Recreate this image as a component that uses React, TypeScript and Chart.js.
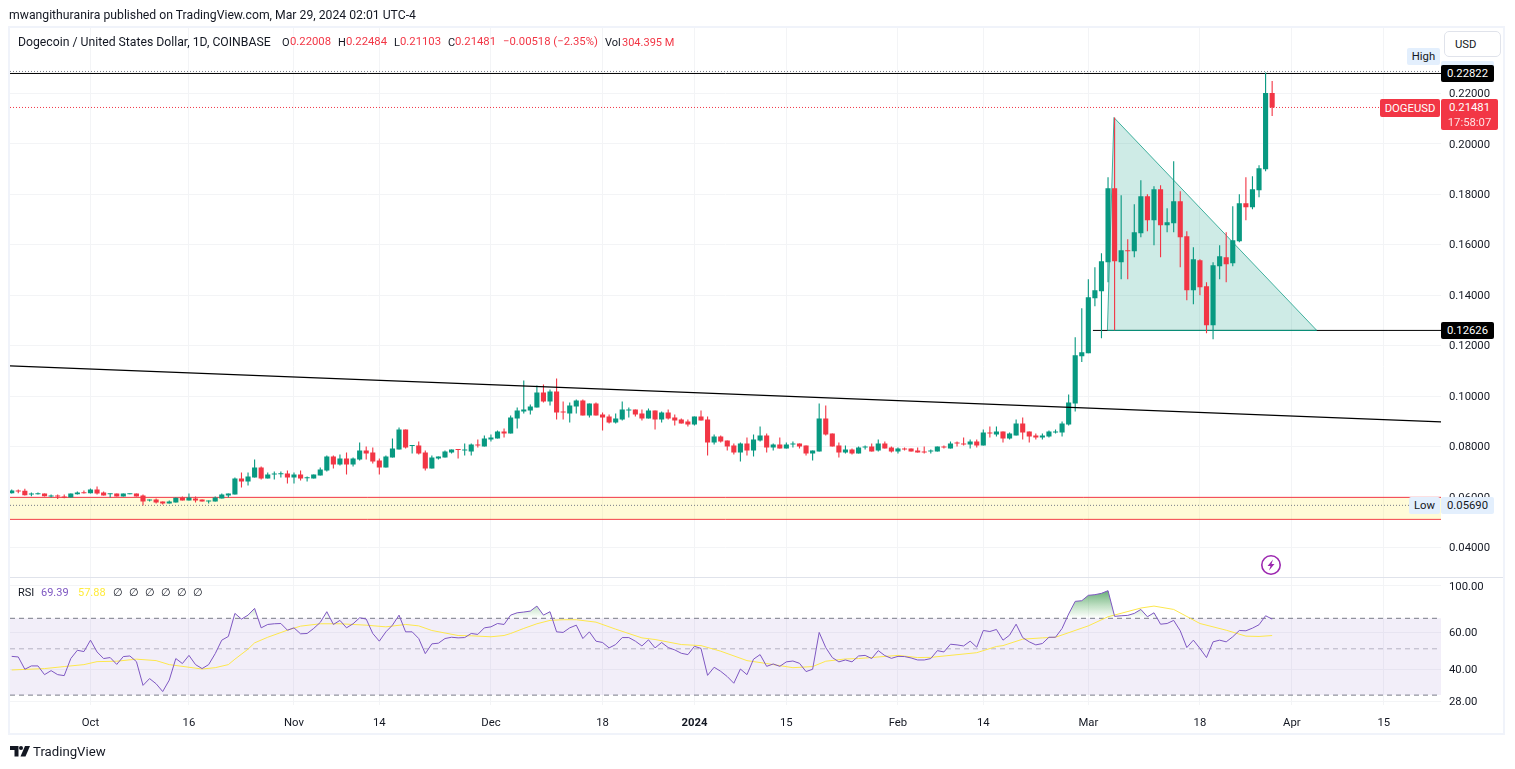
import { useEffect, useRef } from "react";
import { Chart, registerables } from "chart.js";

Chart.register(...registerables);

// days are counted from Oct 1 2023, the first candle is Sep 19
const firstDay = -12;

const opens = [
  0.06153, 0.06259, 0.06246, 0.061, 0.06113, 0.0614, 0.06021, 0.06061, 0.06021, 0.05981,
  0.06113, 0.0618, 0.06153, 0.06299, 0.0618, 0.06113, 0.0614, 0.06021, 0.06113, 0.0614,
  0.06061, 0.05863, 0.05902, 0.05823, 0.05744, 0.05783, 0.05981, 0.05863, 0.05942, 0.05902,
  0.05823, 0.05823, 0.05942, 0.06061, 0.061, 0.06735, 0.06616, 0.06774, 0.07171, 0.06735,
  0.06893, 0.06906, 0.06933, 0.06774, 0.06893, 0.06748, 0.06735, 0.06854, 0.07052, 0.07607,
  0.0729, 0.07528, 0.0729, 0.07488, 0.07845, 0.07766, 0.07449, 0.07171, 0.07567, 0.07885,
  0.08678, 0.08017, 0.08043, 0.07766, 0.07131, 0.07528, 0.07567, 0.07766, 0.07885, 0.07845,
  0.07805, 0.08083, 0.08004, 0.08281, 0.08321, 0.08598, 0.08519, 0.09114, 0.09391, 0.09431,
  0.0955, 0.10145, 0.09788, 0.10184, 0.09391, 0.09312, 0.0959, 0.09827, 0.09233, 0.09708,
  0.09272, 0.09193, 0.08955, 0.09074, 0.09431, 0.09471, 0.09312, 0.09114, 0.09431, 0.09074,
  0.09352, 0.09153, 0.09074, 0.08995, 0.08876, 0.09193, 0.09074, 0.08162, 0.084, 0.08241,
  0.08043, 0.07766, 0.08123, 0.07845, 0.08241, 0.0844, 0.07964, 0.08083, 0.07924, 0.08083,
  0.08123, 0.08043, 0.07726, 0.07805, 0.09114, 0.08519, 0.08043, 0.07766, 0.07885, 0.07726,
  0.07964, 0.08004, 0.07845, 0.08123, 0.07964, 0.07805, 0.07924, 0.07924, 0.07845, 0.07805,
  0.07805, 0.07805, 0.08004, 0.07924, 0.08162, 0.08123, 0.08083, 0.08202, 0.08043, 0.08559,
  0.08479, 0.08598, 0.08321, 0.0844, 0.08915, 0.08598, 0.0844, 0.0836, 0.084, 0.08559,
  0.08559, 0.08876, 0.09708, 0.11573, 0.11692, 0.13873, 0.1415, 0.15301, 0.18235, 0.15301,
  0.15776, 0.15737, 0.1645, 0.17917, 0.16966, 0.18195, 0.16768, 0.16847, 0.17719, 0.16332,
  0.1419, 0.1538, 0.14349, 0.12803, 0.15142, 0.15499, 0.15261, 0.16133, 0.1764, 0.17481, 0.18155, 0.18988, 0.22008,
];
const highs = [
  0.06299, 0.06299, 0.06325, 0.0618, 0.0618, 0.0614, 0.061, 0.061, 0.061, 0.0614,
  0.06219, 0.06259, 0.06338, 0.06418, 0.06219, 0.0614, 0.0614, 0.0614, 0.0614, 0.0614,
  0.061, 0.05902, 0.05942, 0.05823, 0.05863, 0.05981, 0.06021, 0.0614, 0.06021, 0.05902,
  0.05863, 0.06021, 0.0614, 0.0614, 0.06774, 0.06973, 0.06973, 0.07488, 0.07211, 0.06973,
  0.07012, 0.07012, 0.07052, 0.06973, 0.07052, 0.06814, 0.06893, 0.07171, 0.07647, 0.07647,
  0.07686, 0.07766, 0.07567, 0.08162, 0.08004, 0.07964, 0.07528, 0.07647, 0.08321, 0.08757,
  0.08678, 0.08043, 0.08202, 0.07845, 0.07647, 0.07607, 0.07845, 0.07885, 0.07885, 0.08123,
  0.08123, 0.08281, 0.0844, 0.08479, 0.08638, 0.08717, 0.09233, 0.0955, 0.1062, 0.09669,
  0.10422, 0.10462, 0.10264, 0.107, 0.09788, 0.09748, 0.09867, 0.09867, 0.09708, 0.09748,
  0.09352, 0.09272, 0.09312, 0.09788, 0.0955, 0.09471, 0.09471, 0.0951, 0.09431, 0.09391,
  0.09471, 0.09272, 0.09114, 0.09074, 0.09193, 0.09431, 0.09193, 0.08479, 0.0844, 0.08241,
  0.08123, 0.08162, 0.0836, 0.08479, 0.08797, 0.08519, 0.08123, 0.0836, 0.08162, 0.08202,
  0.08123, 0.08043, 0.07845, 0.09708, 0.09629, 0.08519, 0.08162, 0.08043, 0.07924, 0.08004,
  0.08043, 0.08123, 0.08281, 0.08202, 0.08004, 0.07964, 0.07964, 0.07924, 0.07964, 0.08004,
  0.07885, 0.08004, 0.08043, 0.08202, 0.08202, 0.0836, 0.08281, 0.08281, 0.08678, 0.08797,
  0.08797, 0.08598, 0.08559, 0.09074, 0.09153, 0.08598, 0.08519, 0.08519, 0.08638, 0.08678,
  0.08995, 0.10065, 0.12327, 0.13477, 0.14626, 0.15102, 0.15657, 0.18671, 0.21037, 0.17957,
  0.16212, 0.176, 0.18552, 0.17997, 0.18314, 0.18354, 0.17442, 0.19305, 0.18116, 0.1653,
  0.15895, 0.15419, 0.14507, 0.15301, 0.15975, 0.1649, 0.17521, 0.17997, 0.18671, 0.1871, 0.19147, 0.22822, 0.22484,
];
const lows = [
  0.0614, 0.06153, 0.06061, 0.06034, 0.061, 0.06021, 0.05981, 0.05916, 0.05955, 0.05981,
  0.061, 0.0614, 0.0614, 0.061, 0.06061, 0.05981, 0.06021, 0.06021, 0.06113, 0.06021,
  0.05664, 0.05823, 0.05744, 0.05704, 0.05744, 0.05783, 0.05863, 0.05863, 0.05783, 0.05823,
  0.05744, 0.05823, 0.05942, 0.05981, 0.061, 0.06378, 0.06457, 0.06774, 0.06695, 0.06735,
  0.06695, 0.06774, 0.06537, 0.06537, 0.06655, 0.06616, 0.06735, 0.06854, 0.07012, 0.07131,
  0.0725, 0.06893, 0.07211, 0.07449, 0.07488, 0.0733, 0.06893, 0.07171, 0.07567, 0.07885,
  0.07924, 0.07726, 0.07686, 0.07052, 0.07131, 0.07488, 0.07567, 0.07726, 0.07528, 0.07647,
  0.07647, 0.07964, 0.08004, 0.08202, 0.08321, 0.0836, 0.08519, 0.08717, 0.09312, 0.09272,
  0.0955, 0.09748, 0.09629, 0.09074, 0.09074, 0.08955, 0.09312, 0.09233, 0.09153, 0.09233,
  0.08638, 0.08915, 0.08915, 0.09034, 0.09153, 0.09193, 0.09034, 0.09114, 0.08678, 0.08955,
  0.09074, 0.08836, 0.08915, 0.08797, 0.08836, 0.09034, 0.07647, 0.08083, 0.08162, 0.07845,
  0.07686, 0.07409, 0.07647, 0.07607, 0.08202, 0.07766, 0.07845, 0.07924, 0.07924, 0.07964,
  0.07924, 0.07647, 0.07449, 0.07805, 0.0844, 0.08004, 0.07567, 0.07726, 0.07686, 0.07726,
  0.07885, 0.07805, 0.07805, 0.07924, 0.07766, 0.07726, 0.07845, 0.07805, 0.07766, 0.07726,
  0.07726, 0.07805, 0.07924, 0.07924, 0.08004, 0.08043, 0.07924, 0.07964, 0.08043, 0.0836,
  0.084, 0.08162, 0.08281, 0.0844, 0.08281, 0.08162, 0.08281, 0.08281, 0.0836, 0.08519,
  0.084, 0.08836, 0.09391, 0.11349, 0.11692, 0.13556, 0.12287, 0.14507, 0.12604, 0.14626,
  0.14626, 0.15499, 0.16292, 0.1653, 0.15975, 0.15499, 0.1649, 0.1649, 0.15102, 0.13794,
  0.13635, 0.13992, 0.12485, 0.12247, 0.14626, 0.14507, 0.15142, 0.16094, 0.16966, 0.17402, 0.17878, 0.18909, 0.21103,
];
const closes = [
  0.06259, 0.06219, 0.06074, 0.0614, 0.0614, 0.06034, 0.06061, 0.06021, 0.05968, 0.0614,
  0.0618, 0.06153, 0.06299, 0.0614, 0.06061, 0.0614, 0.06021, 0.0614, 0.0614, 0.06021,
  0.05823, 0.05902, 0.05783, 0.05744, 0.05823, 0.05968, 0.05863, 0.05981, 0.05863, 0.05823,
  0.05863, 0.05981, 0.061, 0.0614, 0.06735, 0.06616, 0.06814, 0.07171, 0.06735, 0.06893,
  0.06933, 0.06933, 0.06774, 0.06893, 0.06735, 0.06774, 0.06893, 0.07092, 0.07607, 0.0729,
  0.07528, 0.0729, 0.07528, 0.07845, 0.07726, 0.07409, 0.07171, 0.07607, 0.07924, 0.08678,
  0.07964, 0.08043, 0.07726, 0.07131, 0.07567, 0.07607, 0.07805, 0.07885, 0.07858, 0.07885,
  0.08083, 0.08043, 0.08321, 0.0836, 0.08598, 0.08519, 0.09153, 0.09431, 0.09471, 0.0959,
  0.10145, 0.09788, 0.10184, 0.09352, 0.09352, 0.09629, 0.09827, 0.09233, 0.09708, 0.09233,
  0.09153, 0.08955, 0.09114, 0.09471, 0.09471, 0.09272, 0.09114, 0.09431, 0.09074, 0.09352,
  0.09114, 0.09034, 0.08915, 0.08876, 0.09193, 0.09034, 0.08162, 0.084, 0.08202, 0.08004,
  0.07766, 0.08123, 0.07845, 0.08281, 0.0844, 0.07964, 0.08083, 0.07924, 0.08083, 0.08123,
  0.08004, 0.07726, 0.07845, 0.09114, 0.08479, 0.08004, 0.07766, 0.07885, 0.07726, 0.07964,
  0.08004, 0.07805, 0.08123, 0.07924, 0.07805, 0.07924, 0.07885, 0.07805, 0.07766, 0.07766,
  0.07845, 0.08004, 0.07964, 0.08123, 0.08123, 0.08083, 0.08202, 0.08043, 0.08559, 0.08519,
  0.08598, 0.08321, 0.08519, 0.08915, 0.08559, 0.084, 0.0836, 0.0844, 0.08598, 0.08598,
  0.08915, 0.09748, 0.11613, 0.11732, 0.13913, 0.1419, 0.1534, 0.18235, 0.1534, 0.15776,
  0.15737, 0.1649, 0.17917, 0.16966, 0.18195, 0.16768, 0.16887, 0.17719, 0.16292, 0.1419,
  0.15419, 0.14309, 0.12803, 0.15181, 0.15538, 0.15221, 0.16173, 0.1764, 0.17481, 0.18195, 0.19028, 0.22008, 0.2144,
];

const rsi = [
  46.0, 45.7, 39.9, 41.4, 41.4, 37.6, 39.3, 37.6, 37.2, 44.9,
  49.2, 48.5, 55.0, 48.3, 44.9, 45.4, 42.1, 45.9, 46.2, 43.4,
  33.4, 36.0, 34.0, 31.2, 35.4, 44.9, 42.5, 46.5, 42.0, 40.2,
  42.0, 47.4, 55.0, 57.3, 73.9, 69.4, 72.5, 78.1, 63.0, 65.4,
  65.9, 66.1, 61.4, 63.0, 59.0, 59.2, 62.6, 66.9, 75.3, 65.4,
  68.4, 63.0, 65.9, 70.4, 69.4, 59.2, 54.4, 60.3, 64.9, 72.5,
  60.3, 60.3, 56.0, 47.4, 52.8, 53.2, 56.0, 56.8, 56.4, 56.6,
  59.2, 58.6, 63.0, 63.7, 66.1, 65.4, 72.5, 74.4, 75.0, 75.8,
  80.1, 72.5, 75.3, 60.3, 59.9, 63.0, 64.9, 56.0, 60.3, 54.4,
  53.6, 50.5, 52.4, 56.6, 56.6, 54.4, 51.6, 55.2, 50.5, 53.6,
  50.7, 49.4, 47.6, 46.9, 51.4, 50.2, 37.3, 40.8, 39.0, 36.8,
  34.2, 40.0, 37.6, 44.6, 46.9, 41.2, 42.3, 41.2, 43.3, 43.7,
  42.6, 38.9, 39.9, 59.9, 50.7, 45.4, 43.3, 44.2, 43.3, 46.2,
  46.5, 44.9, 49.0, 46.4, 45.0, 46.0, 45.9, 45.2, 44.2, 44.2,
  44.9, 49.0, 48.3, 52.6, 52.2, 51.6, 54.4, 50.9, 61.2, 60.5,
  61.9, 55.0, 58.1, 65.6, 56.6, 54.0, 52.2, 53.0, 56.8, 56.8,
  62.6, 73.4, 84.4, 85.0, 90.2, 90.85, 92.2, 94.96, 71.5, 72.0,
  72.3, 73.9, 77.2, 71.2, 74.4, 65.6, 66.1, 68.4, 61.0, 50.7,
  55.0, 50.2, 45.4, 54.0, 55.0, 54.0, 57.1, 61.2, 61.0, 62.8, 65.2, 72.0, 69.39,
];

// the RSI average is read at these days only
const rsiMaDays = [
  -12, -7, -4, -1, 1, 4, 7, 10, 12, 15, 17, 19, 21, 22, 24, 25, 27, 30, 32, 35, 38, 42, 45, 48, 50, 52, 56, 58, 61,
  63, 64, 66, 68, 70, 72, 74, 77, 80, 84, 86, 90, 93, 96, 100, 103, 107, 110, 112, 115, 117, 123, 126, 128, 135, 138,
  139, 142, 145, 147, 152, 155, 160, 162, 165, 169, 173, 176, 178, 180,
];
const rsiMa = [
  39.6, 40.2, 41.1, 42.0, 43.4, 43.6, 44.6, 43.9, 42.0, 40.8, 40.0, 40.6, 42.0, 44.6, 49.8, 53.4, 56.8, 61.4, 64.2, 65.9, 65.9, 64.9, 63.7, 65.4, 64.4, 61.2, 57.9, 57.7, 57.1,
  57.9, 59.2, 62.6, 65.9, 68.4, 68.9, 68.9, 67.1, 62.1, 56.4, 55.4, 52.4, 51.8, 48.7, 43.9, 42.5, 40.6, 41.1, 43.6, 44.7, 44.9, 46.5, 45.4, 45.5, 47.9, 51.3,
  51.8, 55.6, 56.4, 56.8, 64.4, 71.2, 78.4, 80.1, 77.2, 66.1, 61.4, 57.5, 57.3, 57.88,
];

const tickDays = [0, 15, 31, 44, 61, 78, 92, 106, 123, 136, 152, 169, 183, 197];
const tickLabels = ["Oct", "16", "Nov", "14", "Dec", "18", "2024", "15", "Feb", "14", "Mar", "18", "Apr", "15"];
const priceTicks = [0.04, 0.06, 0.08, 0.1, 0.12, 0.14, 0.16, 0.18, 0.2, 0.22];
const rsiTicks = [28, 40, 60, 100];

// drawings on the price pane
const xMin = -12.26;
const xMax = 205.72;
const trendLine = [0.11196, 0.08977];
const triangleDays = [154.9, 155.9, 186.8];
const trianglePrices = [0.12602, 0.21036, 0.12602];
const supportPrice = 0.12602;
const supportStart = 152.7;
const highLine = 0.22784;
const highDotted = 0.22864;
const lastLine = 0.21437;
const lowDotted = 0.05669;
const zoneTop = 0.05986;
const zoneBottom = 0.05114;

const GREEN = "#089981";
const RED = "#f23645";
const TEXT = "#131722";
const GRID = "#f3f4f6";
const FONT = "Roboto, sans-serif";

const flat = (price: number, from = xMin) => [
  { x: from, y: price },
  { x: xMax, y: price },
];

const line = (data: any[], yAxisID: string, borderColor: string, extra: any = {}) => ({
  type: "line",
  data,
  yAxisID,
  xAxisID: "x",
  borderColor,
  borderWidth: 1,
  pointRadius: 0,
  tension: 0,
  fill: false,
  ...extra,
});

// canvas middle baseline sits a little high for this font, nudge the axis labels down
const nudgeLabels = {
  id: "nudgeLabels",
  afterLayout(chart: any) {
    ["price", "rsi"].forEach((id) => {
      chart.scales[id].getLabelItems(chart.chartArea).forEach((item: any) => {
        item.options.translation[1] += 1;
      });
    });
  },
};

function Txt({ x, y, color = TEXT, size = 11, children, style }: any) {
  return (
    <span
      style={{
        position: "absolute",
        left: x,
        top: y,
        transform: "translateY(-50%)",
        color,
        fontSize: size,
        fontFamily: FONT,
        whiteSpace: "nowrap",
        lineHeight: 1,
        ...style,
      }}
    >
      {children}
    </span>
  );
}

function Tag({ left, top, width, height, bg, color = "#fff", children, style }: any) {
  return (
    <div
      style={{
        position: "absolute",
        left,
        top,
        width,
        height,
        background: bg,
        color,
        fontFamily: FONT,
        fontSize: 11.3,
        borderRadius: 2,
        display: "flex",
        alignItems: "center",
        justifyContent: "center",
        whiteSpace: "nowrap",
        ...style,
      }}
    >
      {children}
    </div>
  );
}

export default function App() {
  const canvasRef = useRef<HTMLCanvasElement>(null);

  useEffect(() => {
    const ctx = canvasRef.current!.getContext("2d")!;
    const days = opens.map((_, i) => firstDay + i);
    const colors = opens.map((o, i) => (closes[i] >= o ? GREEN : RED));

    const overbought = ctx.createLinearGradient(0, 590, 0, 618);
    overbought.addColorStop(0, "rgba(46,140,70,0.75)");
    overbought.addColorStop(1, "rgba(76,175,80,0)");

    const myChart = new Chart(ctx, {
      type: "bar",
      plugins: [nudgeLabels],
      data: {
        datasets: [
          // candles
          {
            data: days.map((d, i) => ({ x: d, y: [opens[i], closes[i]] })),
            yAxisID: "price",
            xAxisID: "x",
            backgroundColor: colors,
            grouped: false,
            barPercentage: 0.78,
            categoryPercentage: 1,
            minBarLength: 1,
            order: 3,
          },
          {
            data: days.map((d, i) => ({ x: d, y: [lows[i], highs[i]] })),
            yAxisID: "price",
            xAxisID: "x",
            backgroundColor: colors,
            grouped: false,
            barPercentage: 0.17,
            categoryPercentage: 1,
            order: 4,
          },
          // yellow zone
          line(flat(zoneTop), "price", RED, { fill: "+1", backgroundColor: "rgba(255,235,59,0.2)", order: 9 }),
          line(flat(zoneBottom), "price", RED, { order: 9 }),
          // triangle
          line(
            triangleDays.map((d, i) => ({ x: d, y: trianglePrices[i] })),
            "price",
            "rgba(8,153,129,0.75)",
            { fill: { value: supportPrice }, backgroundColor: "rgba(8,153,129,0.2)", order: 8 }
          ),
          line(flat(supportPrice, supportStart), "price", "#000000", { order: 7 }),
          line(
            [
              { x: triangleDays[0], y: supportPrice },
              { x: triangleDays[2], y: supportPrice },
            ],
            "price",
            GREEN,
            { order: 6 }
          ),
          // long trend line and price levels
          line(
            [
              { x: xMin, y: trendLine[0] },
              { x: xMax, y: trendLine[1] },
            ],
            "price",
            "#000000",
            { borderWidth: 1.2, order: 1 }
          ),
          line(flat(highLine), "price", "#000000", { order: 5 }),
          line(flat(highDotted), "price", "#787b86", { borderDash: [1, 2], order: 5 }),
          line(flat(lastLine), "price", RED, { borderDash: [1, 2], order: 5 }),
          line(flat(lowDotted), "price", "#787b86", { borderDash: [1, 2], order: 2 }),
          // RSI pane
          line(flat(70), "rsi", "#787b86", { borderDash: [5, 4], fill: "+1", backgroundColor: "rgba(126,87,194,0.1)", order: 9 }),
          line(flat(30), "rsi", "#787b86", { borderDash: [5, 4], order: 9 }),
          line(flat(50), "rsi", "rgba(120,123,134,0.5)", { borderDash: [5, 4], order: 9 }),
          line(
            days.map((d, i) => ({ x: d, y: rsi[i] })),
            "rsi",
            "#7e57c2",
            { fill: { value: 70, above: overbought, below: "rgba(0,0,0,0)" }, order: 2 }
          ),
          line(
            rsiMaDays.map((d, i) => ({ x: d, y: rsiMa[i] })),
            "rsi",
            "#fde74c",
            { order: 3 }
          ),
        ] as any,
      },
      options: {
        responsive: false,
        devicePixelRatio: 1,
        animation: false,
        events: [],
        layout: { padding: { left: 10, top: 28, right: 10, bottom: 35 } },
        plugins: { legend: { display: false }, tooltip: { enabled: false } },
        scales: {
          x: {
            type: "linear",
            min: xMin,
            max: xMax,
            offset: false,
            grid: { color: GRID, offset: false, drawTicks: false },
            border: { display: false },
            afterBuildTicks: (scale: any) => {
              scale.ticks = tickDays.map((value) => ({ value }));
            },
            afterFit: (scale: any) => {
              scale.height = 29;
            },
            ticks: {
              autoSkip: false,
              maxRotation: 0,
              padding: 11,
              color: TEXT,
              font: (c: any) => ({
                family: FONT,
                size: 11.3,
                weight: c.tick && c.tick.value === 92 ? "bold" : "normal",
              }),
              callback: (v: any) => tickLabels[tickDays.indexOf(v)],
            },
          },
          price: {
            type: "linear",
            position: "right",
            stack: "panes",
            stackWeight: 549.5,
            min: 0.0281,
            max: 0.24586,
            grid: { color: GRID, drawTicks: false },
            border: { display: false },
            afterBuildTicks: (scale: any) => {
              scale.ticks = priceTicks.map((value) => ({ value }));
            },
            afterFit: (scale: any) => {
              scale.width = 64;
            },
            ticks: {
              padding: 8,
              color: TEXT,
              font: { family: FONT, size: 11.3 },
              callback: (v: any) => Number(v).toFixed(5),
            },
          },
          rsi: {
            type: "logarithmic",
            position: "right",
            stack: "panes",
            stackWeight: 127.5,
            min: 26.9,
            max: 109.8,
            grid: { color: GRID, drawTicks: false },
            border: { display: false },
            afterBuildTicks: (scale: any) => {
              scale.ticks = rsiTicks.map((value) => ({ value }));
            },
            afterFit: (scale: any) => {
              scale.width = 64;
            },
            ticks: {
              padding: 8,
              color: TEXT,
              font: { family: FONT, size: 11.3 },
              callback: (v: any) => Number(v).toFixed(2),
            },
          },
        } as any,
      },
    } as any);

    return () => {
      myChart.destroy();
    };
  }, []);

  return (
    <div style={{ position: "fixed", left: 0, top: 0, width: 1515, height: 769, overflow: "hidden", background: "#fff" }}>
      <canvas ref={canvasRef} width={1515} height={769} style={{ position: "absolute", left: 0, top: 0, width: 1515, height: 769 }} />

      {/* frame and pane separator */}
      <div style={{ position: "absolute", left: 8, top: 26, width: 1497, height: 709, boxSizing: "border-box", border: "2.5px solid #f0f3fa" }} />
      <div style={{ position: "absolute", left: 10, top: 577, width: 1493, height: 1, background: "#e0e3eb" }} />

      <Txt x={9} y={15} size={12.23}>mwangithuranira published on TradingView.com, Mar 29, 2024 02:01 UTC-4</Txt>

      <Txt x={18} y={42} size={12.23}>Dogecoin / United States Dollar, 1D, COINBASE</Txt>
      <Txt x={282} y={42}>O</Txt>
      <Txt x={290} y={42} color={RED} size={11.3}>0.22008</Txt>
      <Txt x={338} y={42}>H</Txt>
      <Txt x={346} y={42} color={RED} size={11.3}>0.22484</Txt>
      <Txt x={394} y={42}>L</Txt>
      <Txt x={400} y={42} color={RED} size={11.3}>0.21103</Txt>
      <Txt x={448} y={42}>C</Txt>
      <Txt x={455} y={42} color={RED} size={11.3}>0.21481</Txt>
      <Txt x={503} y={42} color={RED} size={11.3}>−0.00518 (−2.35%)</Txt>
      <Txt x={605} y={42}>Vol</Txt>
      <Txt x={622} y={42} color={RED}>304.395 M</Txt>

      <Txt x={18} y={592}>RSI</Txt>
      <Txt x={41} y={592} color="#7e57c2">69.39</Txt>
      <Txt x={78} y={592} color="#ffeb3b">57.88</Txt>
      {[113, 129, 145, 161, 177, 193].map((x) => (
        <Txt key={x} x={x} y={592}>∅</Txt>
      ))}

      {/* right hand tags */}
      <div style={{ position: "absolute", left: 1444, top: 31, width: 57, height: 26, boxSizing: "border-box", border: "1px solid #e0e3eb", borderRadius: 5, background: "#fff", fontFamily: FONT, fontSize: 11.3, color: TEXT, display: "flex", alignItems: "center", paddingLeft: 10 }}>USD</div>
      <Tag left={1407} top={48} width={33} height={17} bg="#e3effd" color={TEXT}>High</Tag>
      <Tag left={1441} top={61} width={53} height={8} bg="#e3effd" />
      <Tag left={1441} top={65} width={53} height={17} bg="#000">0.22822</Tag>
      <Tag left={1380} top={99} width={60} height={18} bg={RED}>DOGEUSD</Tag>
      <Tag left={1441} top={99} width={57} height={31} bg={RED} style={{ flexDirection: "column", lineHeight: "15px" }}>
        <span>0.21481</span>
        <span style={{ opacity: 0.85 }}>17:58:07</span>
      </Tag>
      <Tag left={1441} top={322} width={53} height={17} bg="#000">0.12626</Tag>
      <Tag left={1409} top={497} width={31} height={17} bg="#e3effd" color={TEXT}>Low</Tag>
      <Tag left={1441} top={497} width={53} height={17} bg="#e3effd" color={TEXT}>0.05690</Tag>

      {/* replay bolt */}
      <svg style={{ position: "absolute", left: 1260, top: 554 }} width={22} height={22} viewBox="0 0 22 22">
        <circle cx={11} cy={11} r={9.2} fill="none" stroke="#9c27b0" strokeWidth={1.6} />
        <path d="M13 5.5 L7.5 12 H10.5 L9 16.5 L14.5 10 H11.5 Z" fill="#9c27b0" />
      </svg>

      {/* logo */}
      <svg style={{ position: "absolute", left: 10, top: 746 }} width={20} height={11} viewBox="0 0 20 11">
        <path d="M0 0h8.5v10.5H4.5V4H0z" fill="#131722" />
        <circle cx={11} cy={2} r={2} fill="#131722" />
        <path d="M15 0h5l-4.5 10.5H10.5z" fill="#131722" />
      </svg>
      <Txt x={33} y={752} size={13.2}>TradingView</Txt>
    </div>
  );
}
